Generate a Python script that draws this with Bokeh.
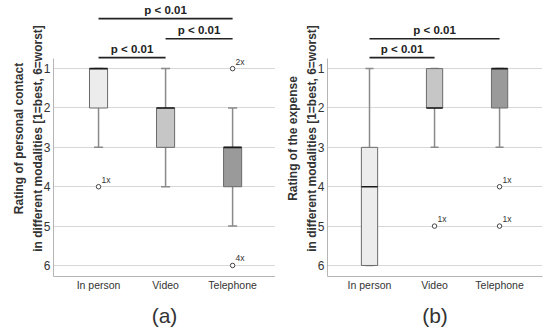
from bokeh.plotting import figure
from bokeh.layouts import row
from bokeh.models import Range1d, FixedTicker, ColumnDataSource
from bokeh.core.properties import value
from bokeh.embed import file_html
from bokeh.resources import INLINE

FONT = "Liberation Sans"

categories = ["In person", "Video", "Telephone"]
box_colors = ["#ececec", "#c6c6c6", "#9a9a9a"]

# panel (a): rating of personal contact
a_q1 = [1, 2, 3]
a_median = [1, 2, 3]
a_q3 = [2, 3, 4]
a_whisker_lo = [1, 1, 2]
a_whisker_hi = [3, 4, 5]
a_out_cat = ["In person", "Telephone", "Telephone"]
a_out_val = [4, 1, 6]
a_out_count = ["1x", "2x", "4x"]
a_sig_from = ["In person", "Video", "In person"]
a_sig_to = ["Telephone", "Telephone", "Video"]
a_sig_level = [-0.27, 0.24, 0.72]
a_sig_text = ["p < 0.01", "p < 0.01", "p < 0.01"]

# panel (b): rating of the expense
b_q1 = [3, 1, 1]
b_median = [4, 2, 1]
b_q3 = [6, 2, 2]
b_whisker_lo = [1, 1, 1]
b_whisker_hi = [6, 3, 3]
b_out_cat = ["Video", "Telephone", "Telephone"]
b_out_val = [5, 4, 5]
b_out_count = ["1x", "1x", "1x"]
b_sig_from = ["In person", "In person"]
b_sig_to = ["Telephone", "Video"]
b_sig_level = [0.24, 0.72]
b_sig_text = ["p < 0.01", "p < 0.01"]

rating_ticks = [1, 2, 3, 4, 5, 6]


def pos(c):
    return categories.index(c) + 1


def panel(ylabel, tag, q1, med, q3, wlo, whi, ocat, oval, ocount,
          sfrom, sto, slevel, stext, xr, box_w, left_border, right_border):
    p = figure(width=275, height=332,
               x_range=Range1d(*xr), y_range=Range1d(6.28, -0.73),
               output_backend="svg", toolbar_location=None,
               min_border_left=left_border, min_border_right=right_border,
               min_border_top=0, min_border_bottom=56)
    p.outline_line_color = None
    p.background_fill_color = "white"
    p.border_fill_color = "white"
    p.xgrid.visible = False
    p.ygrid.grid_line_color = "#d8d8d8"
    p.ygrid.grid_line_width = 1

    p.yaxis.ticker = FixedTicker(ticks=rating_ticks)
    p.yaxis.bounds = (0.75, 6.28)
    p.yaxis.axis_label = ylabel
    p.yaxis.axis_label_text_font = FONT
    p.yaxis.axis_label_text_font_style = "bold"
    p.yaxis.axis_label_text_font_size = "12px"
    p.yaxis.axis_label_text_line_height = 1.33
    p.yaxis.axis_label_text_color = "#333333"
    p.yaxis.axis_label_standoff = -4
    p.yaxis.major_label_text_font = FONT
    p.yaxis.major_label_text_font_size = "12px"
    p.yaxis.major_label_text_color = "#333333"
    p.yaxis.major_label_standoff = 3

    xs = [pos(c) for c in categories]
    p.xaxis.ticker = FixedTicker(ticks=xs)
    p.xaxis.major_label_overrides = {x: c for x, c in zip(xs, categories)}
    p.xaxis.axis_label = tag
    p.xaxis.axis_label_text_font = FONT
    p.xaxis.axis_label_text_font_style = "normal"
    p.xaxis.axis_label_text_font_size = "21px"
    p.xaxis.axis_label_text_color = "#333333"
    p.xaxis.axis_label_standoff = 10
    p.xaxis.major_label_text_font = FONT
    p.xaxis.major_label_text_font_size = "10.5px"
    p.xaxis.major_label_text_color = "#333333"
    p.xaxis.major_label_standoff = 2

    for ax in (p.xaxis, p.yaxis):
        ax.major_tick_line_color = None
        ax.minor_tick_line_color = None
        ax.major_tick_out = 0
        ax.major_tick_in = 0
        ax.minor_tick_out = 0
        ax.minor_tick_in = 0
        ax.axis_line_color = "#b5b5b5"
        ax.axis_line_width = 1

    src = ColumnDataSource(dict(x=xs, q1=q1, med=med, q3=q3, lo=wlo, hi=whi,
                                color=box_colors))
    # whiskers
    p.segment(x0="x", y0="q1", x1="x", y1="lo", source=src,
              line_color="#8a8a8a", line_width=1.5)
    p.segment(x0="x", y0="q3", x1="x", y1="hi", source=src,
              line_color="#8a8a8a", line_width=1.5)
    cap = box_w * 0.5
    p.segment(x0=[x - cap / 2 for x in xs], y0=wlo, x1=[x + cap / 2 for x in xs],
              y1=wlo, line_color="#8a8a8a", line_width=1.5)
    p.segment(x0=[x - cap / 2 for x in xs], y0=whi, x1=[x + cap / 2 for x in xs],
              y1=whi, line_color="#8a8a8a", line_width=1.5)
    # boxes
    p.vbar(x="x", width=box_w, top="q1", bottom="q3", source=src,
           fill_color="color", line_color="#6a6a6a", line_width=1)
    # medians
    p.segment(x0=[x - box_w / 2 for x in xs], y0=med,
              x1=[x + box_w / 2 for x in xs], y1=med,
              line_color="#1a1a1a", line_width=1.6)
    # outliers
    ox = [pos(c) for c in ocat]
    p.scatter(ox, oval, size=4.5, marker="circle", fill_color="white",
              line_color="#444444", line_width=1)
    p.text(ox, oval, text=ocount, x_offset=3, y_offset=-2,
           text_font=value(FONT), text_font_size="8.5px",
           text_color="#333333", text_baseline="bottom", text_align="left")
    # significance brackets
    fx = [pos(c) for c in sfrom]
    tx = [pos(c) for c in sto]
    p.segment(x0=fx, y0=slevel, x1=tx, y1=slevel, line_color="#222222",
              line_width=1.6)
    p.text([(a + b) / 2 for a, b in zip(fx, tx)], slevel, text=stext,
           y_offset=-3, text_font=value(FONT), text_font_size="11.5px",
           text_font_style="bold", text_color="#222222",
           text_baseline="bottom", text_align="center")
    return p


pa = panel("Rating of personal contact\nin different modalities [1=best, 6=worst]",
           "(a)", a_q1, a_median, a_q3, a_whisker_lo, a_whisker_hi,
           a_out_cat, a_out_val, a_out_count,
           a_sig_from, a_sig_to, a_sig_level, a_sig_text,
           (0.328, 3.64), 0.27, 53, 0)
pb = panel("Rating of the expense\nin different modalities [1=best, 6=worst]",
           "(b)", b_q1, b_median, b_q3, b_whisker_lo, b_whisker_hi,
           b_out_cat, b_out_val, b_out_count,
           b_sig_from, b_sig_to, b_sig_level, b_sig_text,
           (0.354, 3.66), 0.25, 52, 8)

layout = row(pa, pb, spacing=0)
open("out.html", "w").write(file_html(layout, INLINE))
